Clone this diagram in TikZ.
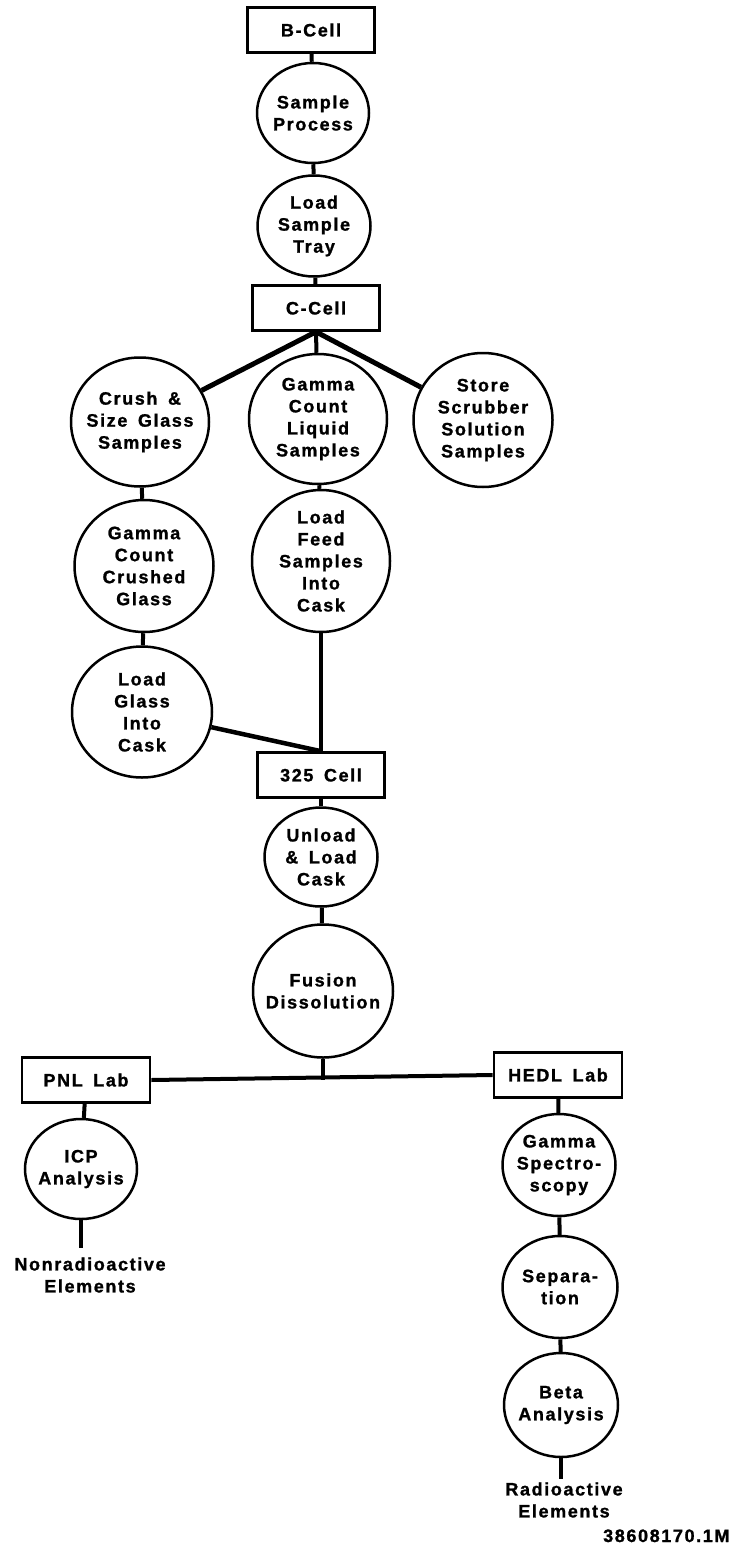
\documentclass[tikz,border=0pt]{standalone}
\usepackage{fontspec}
\setmainfont{Liberation Sans}[LetterSpace=9,WordSpace=1.6,BoldFeatures={FakeBold=1.2}]
\usetikzlibrary{shapes.geometric}

\begin{document}
\begin{tikzpicture}[x=1pt, y=-1pt,
    every node/.style={font=\bfseries\fontsize{18}{22}\selectfont, align=center},
    cellbox/.style={draw, line width=2.6pt, inner sep=0pt, minimum width=127pt, minimum height=45pt},
    stage/.style 2 args={draw, ellipse, line width=2.5pt, inner sep=-10pt, minimum width=#1pt, minimum height=#2pt},
    link/.style={line width=4pt},
    branch/.style={line width=5pt}]
    \useasboundingbox (0,0) rectangle (737,1546);

    % B-Cell
    \node[cellbox] (bcell) at (311,30) {B-Cell};
    \node[stage={112}{100}] (sample) at (313,113) {Sample\\Process};
    \node[stage={113}{101}] (tray) at (314,226) {Load\\Sample\\Tray};
    \node[cellbox] (ccell) at (316,308) {C-Cell};

    % C-Cell branches
    \node[stage={138}{129}] (crush) at (140,422) {Crush \&\\Size Glass\\Samples};
    \node[stage={138}{130}] (liquid) at (318,419) {Gamma\\Count\\Liquid\\Samples};
    \node[stage={139}{134}] (scrub) at (483,420) {Store\\Scrubber\\Solution\\Samples};
    \node[stage={139}{132}] (crushed) at (144,566) {Gamma\\Count\\Crushed\\Glass};
    \node[stage={138}{142}] (feed) at (321,561) {Load\\Feed\\Samples\\Into\\Cask};
    \node[stage={140}{131}] (glass) at (142,712) {Load\\Glass\\Into\\Cask};

    % 325 Cell
    \node[cellbox] (cell325) at (321,775) {325 Cell};
    \node[stage={113}{99}] (unload) at (321,857) {Unload\\\& Load\\Cask};
    \node[stage={140}{133}] (fusion) at (323,991) {Fusion\\Dissolution};

    % Labs
    \node[cellbox, minimum width=128pt] (pnl) at (86,1080) {PNL Lab};
    \node[cellbox, minimum width=128pt] (hedl) at (558,1075) {HEDL Lab};
    \node[stage={112}{100}] (icp) at (81,1169) {ICP\\Analysis};
    \node (nonrad) at (90,1275) {Nonradioactive\\Elements};
    \node[stage={113}{102}] (spectro) at (559,1165) {Gamma\\Spectro-\\scopy};
    \node[stage={115}{102}] (separate) at (560,1287) {Separa-\\tion};
    \node[stage={114}{104}] (beta) at (561,1405) {Beta\\Analysis};
    \node (radio) at (564,1500) {Radioactive\\Elements};

    \node[anchor=base east] (drawno) at (733,1542) {38608170.1M};

    % Connections
    \draw[link] (bcell) -- (sample);
    \draw[link] (sample) -- (tray);
    \draw[link] (tray) -- (ccell);
    \draw[link] (ccell.south) -- (liquid);
    \draw[branch] (ccell.south) -- (crush);
    \draw[branch] (ccell.south) -- (scrub);
    \draw[link] (crush) -- (crushed);
    \draw[link] (crushed) -- (glass);
    \draw[link] (liquid) -- (feed);
    \draw[link] (feed) -- (cell325.north);
    \draw[link, line width=4.5pt] (glass) -- (cell325.north);
    \draw[link] (cell325) -- (unload);
    \draw[link] (unload) -- (fusion);

    % Lab line
    \draw[link] (pnl.east) -- (hedl.west);
    \draw[link] (fusion) -- (fusion.south |- pnl.east);
    \draw[link] (pnl) -- (icp);
    \draw[link, shorten >=6pt] (icp) -- (icp.south |- nonrad.north);
    \draw[link] (hedl) -- (spectro);
    \draw[link] (spectro) -- (separate);
    \draw[link] (separate) -- (beta);
    \draw[link] (beta) -- (beta.south |- radio.north);
\end{tikzpicture}
\end{document}
